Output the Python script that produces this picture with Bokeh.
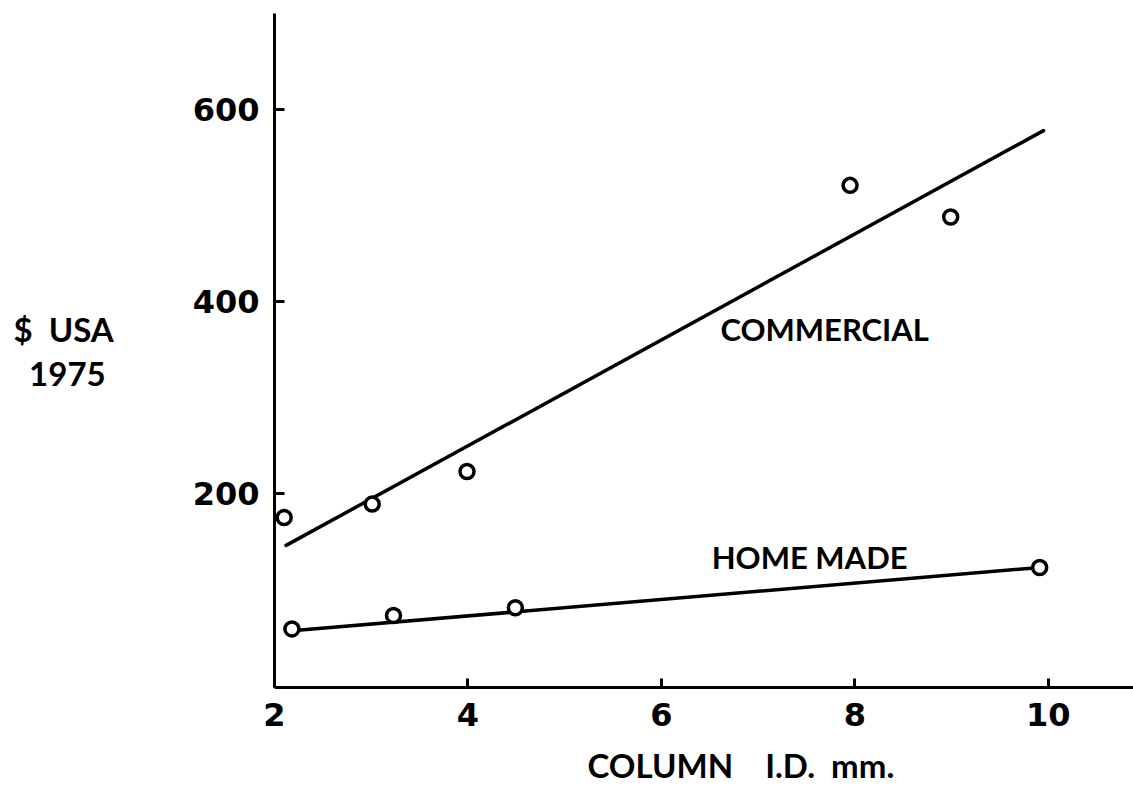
from bokeh.plotting import figure
from bokeh.models import Range1d, FixedTicker, Label, Title
from bokeh.embed import file_html
from bokeh.resources import INLINE

# Column cost versus column inner diameter (1975 US dollars)
commercial_x = [2.10, 3.01, 3.99, 7.95, 8.99]
commercial_y = [175, 189, 223, 521, 488]
home_x = [2.18, 3.23, 4.49, 9.91]
home_y = [59, 73, 81, 123]

# fitted trend lines (end points)
commercial_fit_x = [2.12, 9.95]
commercial_fit_y = [146, 578]
home_fit_x = [2.18, 9.91]
home_fit_y = [57, 123]

x_ticks = [2, 4, 6, 8, 10]
y_ticks = [200, 400, 600]

FONT = "Lato"
TICK_FONT = "DejaVu Sans"
INK = "black"
NB = "\u00a0"  # non-breaking space keeps the wide gaps in SVG text

p = figure(
    width=1133, height=796,
    frame_width=859, frame_height=674,
    x_range=Range1d(2.0, 10.88), y_range=Range1d(-2, 700),
    output_backend="svg", toolbar_location=None,
    min_border_left=274, min_border_right=0,
    min_border_top=13, min_border_bottom=109,
)
p.outline_line_color = None
p.xgrid.visible = False
p.ygrid.visible = False
p.background_fill_color = "white"
p.border_fill_color = "white"

for ax in (p.xaxis[0], p.yaxis[0]):
    ax.axis_line_width = 3
    ax.axis_line_color = INK
    ax.major_tick_line_width = 3
    ax.major_tick_line_color = INK
    ax.major_tick_out = 0
    ax.minor_tick_line_color = None
    ax.major_label_text_font = TICK_FONT
    ax.major_label_text_font_style = "bold"
    ax.major_label_text_font_size = "32px"
    ax.major_label_text_color = INK

p.xaxis.ticker = FixedTicker(ticks=x_ticks)
p.xaxis.major_tick_in = 9
p.xaxis.major_label_standoff = 15

p.yaxis.ticker = FixedTicker(ticks=y_ticks)
p.yaxis.major_tick_in = 10
p.yaxis.major_label_standoff = 15

# y axis title, written horizontally on two lines
p.yaxis.axis_label = "$" + NB * 2 + "USA\n1975" + NB
p.yaxis.axis_label_orientation = "horizontal"
p.yaxis.axis_label_text_font = FONT
p.yaxis.axis_label_text_font_style = "bold"
p.yaxis.axis_label_text_font_size = "33px"
p.yaxis.axis_label_text_color = INK
p.yaxis.axis_label_text_align = "center"
p.yaxis.axis_label_text_line_height = 1.1
p.yaxis.axis_label_standoff = 76

# x axis title
p.add_layout(Title(text="COLUMN" + NB * 4 + "I.D." + NB * 2 + "mm.", align="left", offset=313,
                   text_font=FONT, text_font_style="bold", text_font_size="33px",
                   text_color=INK, standoff=28), "below")

# trend lines
p.line(commercial_fit_x, commercial_fit_y, line_width=3.5, line_color=INK, line_cap="round")
p.line(home_fit_x, home_fit_y, line_width=3.5, line_color=INK, line_cap="round")

# observed points
p.scatter(commercial_x, commercial_y, marker="circle", size=14, line_width=3.5,
          line_color=INK, fill_color="white")
p.scatter(home_x, home_y, marker="circle", size=14, line_width=3.5,
          line_color=INK, fill_color="white")

def add_text(x, y, txt):
    p.add_layout(Label(x=x, y=y, text=txt, text_font=FONT, text_font_style="bold",
                       text_font_size="31px", text_color=INK, text_align="left",
                       text_baseline="alphabetic"))

add_text(6.61, 371, "COMMERCIAL")
add_text(6.52, 134, "HOME MADE")

open("out.html", "w").write(file_html(p, INLINE))
